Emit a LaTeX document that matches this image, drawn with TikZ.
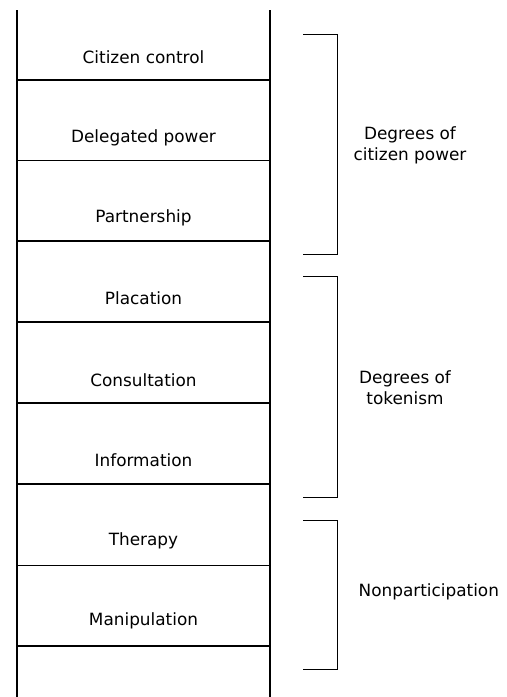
\documentclass[tikz,border=0pt]{standalone}
\usepackage{fontspec}
\setmainfont{DejaVu Sans}
\begin{document}
\begin{tikzpicture}[x=0.75pt,y=-0.75pt,draw=black!100]
	\def \leftrail{17}
	\def \rightrail{270}
	\def \midrail{143.5}
	\def \bracein{303}
	\def \braceout{337}
	\tikzstyle{rail}=[line width=1pt]
	\tikzstyle{rung}=[line width=0.9pt]
	\tikzstyle{brace}=[line width=0.75pt]
	\tikzstyle{step-label}=[anchor=base,inner sep=0pt]
	\tikzstyle{group-label}=[align=center,inner sep=0pt]
	\fontsize{12.66}{15.6}\selectfont

	\useasboundingbox (0,0) rectangle (507,697);

	% rails
	\coordinate (rail-l-top) at (\leftrail,10);
	\coordinate (rail-l-bot) at (\leftrail,697);
	\coordinate (rail-r-top) at (\rightrail,10);
	\coordinate (rail-r-bot) at (\rightrail,697);
	\draw[rail] (rail-l-top) -- (rail-l-bot);
	\draw[rail] (rail-r-top) -- (rail-r-bot);

	% rungs
	\foreach \y [count=\i] in {80,160.7,241,322,403,484,565.5,646} {
		\coordinate (rung\i-l) at (\leftrail,\y);
		\coordinate (rung\i-r) at (\rightrail,\y);
		\draw[rung] (rung\i-l) -- (rung\i-r);
	}

	% steps of the ladder
	\node[step-label] 	(s8)	at (\midrail,63)		{Citizen control};
	\node[step-label] 	(s7)	at (\midrail,142.5)		{Delegated power};
	\node[step-label] 	(s6)	at (\midrail,222.5)		{Partnership};
	\node[step-label] 	(s5)	at (\midrail,304)		{Placation};
	\node[step-label] 	(s4)	at (\midrail,386)		{Consultation};
	\node[step-label] 	(s3)	at (\midrail,466.5)		{Information};
	\node[step-label] 	(s2)	at (\midrail,545)		{Therapy};
	\node[step-label] 	(s1)	at (\midrail,625.5)		{Manipulation};

	% brackets
	\draw[brace] (\bracein,34) -- (\braceout,34) -- (\braceout,254) -- (\bracein,254);
	\draw[brace] (\bracein,276.5) -- (\braceout,276.5) -- (\braceout,497) -- (\bracein,497);
	\draw[brace] (\bracein,520) -- (\braceout,520) -- (\braceout,669) -- (\bracein,669);

	% groups
	\node[group-label] 	(power)		at (410,145)	{Degrees of\\citizen power};
	\node[group-label] 	(tokenism)	at (405,387.5)	{Degrees of\\tokenism};
	\node[step-label] 	(nonpart)	at (428.8,596.7)	{Nonparticipation};
\end{tikzpicture}
\end{document}
